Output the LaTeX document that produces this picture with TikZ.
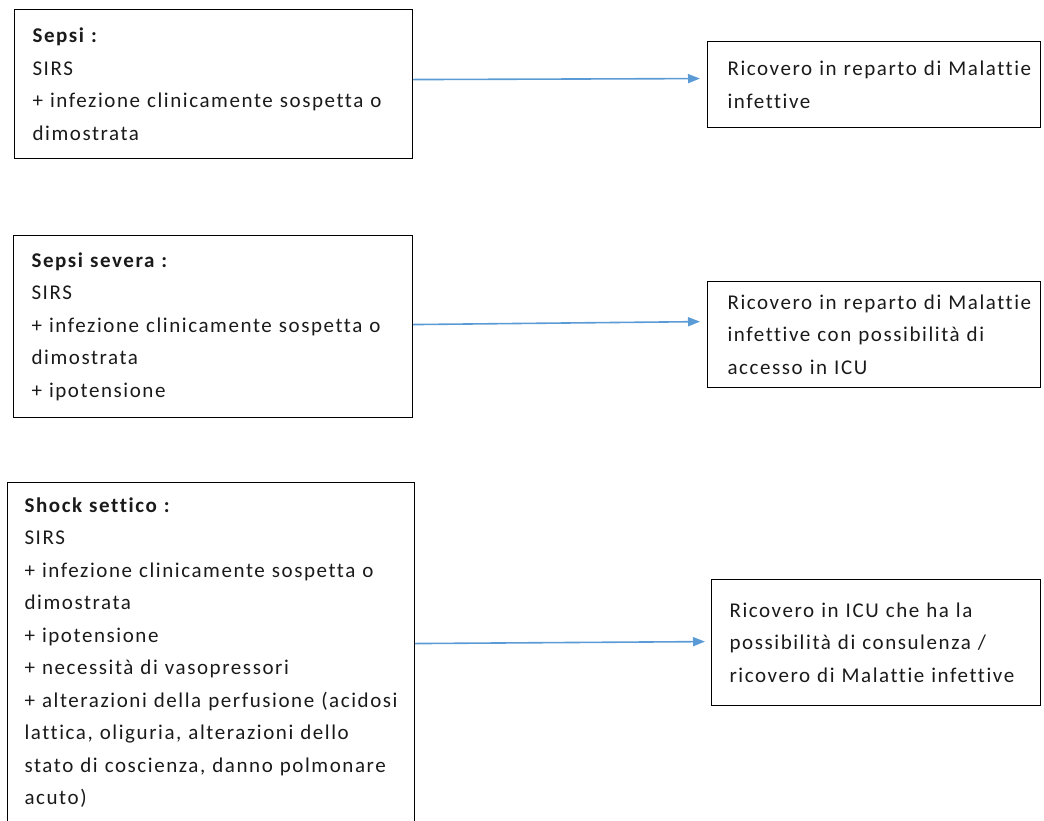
\documentclass[tikz,border=0pt]{standalone}
\usepackage{fontspec}
\setmainfont{Carlito}[LetterSpace=7.5,Ligatures=NoCommon]
\usetikzlibrary{arrows.meta}
\definecolor{arrowblue}{HTML}{5B9BD5}
\definecolor{txt}{HTML}{1A1A1A}
\begin{document}
\begin{tikzpicture}[x=1pt,y=-1pt,
  box/.style={draw=black, line width=1.1pt, inner sep=0pt, align=left,
    anchor=north west, font=\fontsize{21}{32.5}\selectfont, text=txt},
  link/.style={draw=arrowblue, line width=1.6pt,
    -{Triangle[length=12pt,width=9pt]}}]
\clip (0,0) rectangle (1044,820);
% left boxes
\node[box, minimum width=398pt, minimum height=149pt, text width=362pt] (s1) at (14,9)
  {\mbox{\textbf{Sepsi :}}\\\mbox{SIRS}\\\mbox{+ infezione clinicamente sospetta o}\\\mbox{dimostrata}};
\node[box, minimum width=399pt, minimum height=182pt, text width=363pt] (s2) at (13,235)
  {\mbox{\textbf{Sepsi severa :}}\\\mbox{SIRS}\\\mbox{+ infezione clinicamente sospetta o}\\\mbox{dimostrata}\\\mbox{+ ipotensione}};
\node[box, minimum width=407pt, minimum height=340pt, text width=373pt] (s3) at (7,482)
  {\mbox{\textbf{Shock settico :}}\\\mbox{SIRS}\\\mbox{+ infezione clinicamente sospetta o}\\\mbox{dimostrata}\\\mbox{+ ipotensione}\\\mbox{+ necessità di vasopressori}\\\mbox{+ alterazioni della perfusione (acidosi}\\\mbox{lattica, oliguria, alterazioni dello}\\\mbox{stato di coscienza, danno polmonare}\\\mbox{acuto)}};
% right boxes
\node[box, minimum width=333pt, minimum height=86pt, text width=293pt] (r1) at (707,41)
  {\mbox{Ricovero in reparto di Malattie}\\\mbox{infettive}};
\node[box, minimum width=333pt, minimum height=106pt, text width=293pt] (r2) at (707,281)
  {\mbox{Ricovero in reparto di Malattie}\\\mbox{infettive con possibilità di}\\\mbox{accesso in ICU}};
\node[box, minimum width=329pt, minimum height=126pt, text width=293pt] (r3) at (711,579)
  {\mbox{Ricovero in ICU che ha la}\\\mbox{possibilità di consulenza /}\\\mbox{ricovero di Malattie infettive}};
% arrows
\draw[link, shorten >=7pt] ([yshift=4.5pt]s1.east) -- ([yshift=6pt]r1.west);
\draw[link, shorten >=7pt] ([yshift=2pt]s2.east) -- ([yshift=13pt]r2.west);
\draw[link, shorten >=6pt] ([yshift=9pt]s3.east) -- ([yshift=1pt]r3.west);
\end{tikzpicture}
\end{document}
